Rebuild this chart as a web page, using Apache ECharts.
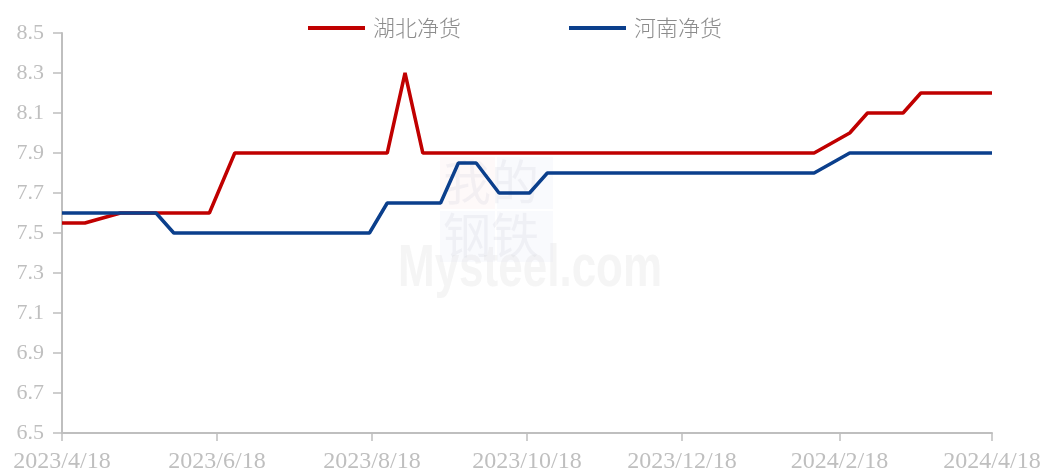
<!DOCTYPE html>
<html>
<head>
<meta charset="utf-8">
<script src="https://cdn.jsdelivr.net/npm/echarts@6/dist/echarts.min.js"></script>
<style>
  html, body { margin: 0; padding: 0; background: #fff; }
  #main { width: 1045px; height: 474px; }
</style>
</head>
<body>
<div id="main"></div>
<script>
// 湖北净货 / 河南净货 price (breakpoints)
var hubeiDates  = ['2023/4/18', '2023/4/27', '2023/5/11', '2023/6/15', '2023/6/25', '2023/8/24', '2023/8/31', '2023/9/7', '2024/2/8', '2024/2/22', '2024/2/29', '2024/3/14', '2024/3/21', '2024/4/18'];
var hubeiValues = [7.55, 7.55, 7.6, 7.6, 7.9, 7.9, 8.3, 7.9, 7.9, 8.0, 8.1, 8.1, 8.2, 8.2];

var henanDates  = ['2023/4/18', '2023/5/25', '2023/6/1', '2023/8/17', '2023/8/24', '2023/9/14', '2023/9/21', '2023/9/28', '2023/10/7', '2023/10/19', '2023/10/26', '2024/2/8', '2024/2/22', '2024/4/18'];
var henanValues = [7.6, 7.6, 7.5, 7.5, 7.65, 7.65, 7.85, 7.85, 7.7, 7.7, 7.8, 7.8, 7.9, 7.9];

var tickDates = ['2023/4/18', '2023/6/18', '2023/8/18', '2023/10/18', '2023/12/18', '2024/2/18', '2024/4/18'];

function toTime(s) {
    var p = s.split('/');
    return new Date(+p[0], +p[1] - 1, +p[2]).getTime();
}
function pairs(dates, values) {
    return dates.map(function (d, i) { return [toTime(d), values[i]]; });
}

var tickTimes = tickDates.map(toTime);
var grey = '#bfbfbf';

var myChart = echarts.init(document.getElementById('main'));
myChart.setOption({
    animation: false,
    // 水印
    graphic: [
        { type: 'rect', left: 440, top: 157, shape: { width: 55, height: 52 }, style: { fill: 'rgba(235,170,170,0.07)' }, z: 0 },
        { type: 'rect', left: 497, top: 157, shape: { width: 56, height: 52 }, style: { fill: 'rgba(170,185,225,0.07)' }, z: 0 },
        { type: 'rect', left: 440, top: 211, shape: { width: 55, height: 51 }, style: { fill: 'rgba(170,185,225,0.07)' }, z: 0 },
        { type: 'rect', left: 497, top: 211, shape: { width: 56, height: 51 }, style: { fill: 'rgba(170,185,225,0.07)' }, z: 0 },
        { type: 'text', left: 443, top: 158, style: { text: '我的', font: '48px "Noto Sans CJK SC"', fill: 'rgba(205,205,220,0.22)' }, z: 0 },
        { type: 'text', left: 443, top: 211, style: { text: '钢铁', font: '48px "Noto Sans CJK SC"', fill: 'rgba(205,205,220,0.22)' }, z: 0 },
        { type: 'text', x: 398, y: 299, scaleY: 1.35, style: { text: 'Mysteel.com', font: 'bold 44px "Liberation Sans"', fill: 'rgba(215,215,215,0.25)', verticalAlign: 'bottom' }, z: 0 }
    ],
    legend: {
        top: 12,
        left: 303,
        itemWidth: 57,
        itemHeight: 4,
        itemGap: 108,
        icon: 'rect',
        textStyle: { fontFamily: 'Noto Sans CJK SC', fontWeight: 300, fontSize: 22, color: '#8c8c8c', padding: [0, 0, 0, 3] },
        data: ['湖北净货', '河南净货']
    },
    grid: { left: 62, right: 53, top: 33, bottom: 40 },
    xAxis: {
        type: 'value',
        min: tickTimes[0],
        max: tickTimes[tickTimes.length - 1],
        axisLine: { lineStyle: { color: grey, width: 2 } },
        axisTick: { show: true, length: 8, lineStyle: { color: grey, width: 1.5 }, customValues: tickTimes },
        axisLabel: {
            customValues: tickTimes,
            color: grey,
            fontFamily: 'Liberation Serif',
            fontSize: 24,
            margin: 17,
            hideOverlap: false,
            formatter: function (v) {
                var d = new Date(v);
                return d.getFullYear() + '/' + (d.getMonth() + 1) + '/' + d.getDate();
            }
        },
        splitLine: { show: false }
    },
    yAxis: {
        type: 'value',
        min: 6.5,
        max: 8.5,
        interval: 0.2,
        axisLine: { show: true, lineStyle: { color: grey, width: 2 } },
        axisTick: { show: true, length: 9, lineStyle: { color: grey, width: 1.5 } },
        axisLabel: {
            color: grey,
            fontFamily: 'Liberation Serif',
            fontSize: 22,
            margin: 18,
            formatter: function (v) { return v.toFixed(1); }
        },
        splitLine: { show: false }
    },
    series: [
        {
            name: '湖北净货',
            type: 'line',
            data: pairs(hubeiDates, hubeiValues),
            showSymbol: false,
            symbol: 'none',
            lineStyle: { color: '#C00000', width: 3.5 },
            itemStyle: { color: '#C00000' },
            z: 3
        },
        {
            name: '河南净货',
            type: 'line',
            data: pairs(henanDates, henanValues),
            showSymbol: false,
            symbol: 'none',
            lineStyle: { color: '#0B3F8C', width: 3.5 },
            itemStyle: { color: '#0B3F8C' },
            z: 4
        }
    ]
});
</script>
</body>
</html>
